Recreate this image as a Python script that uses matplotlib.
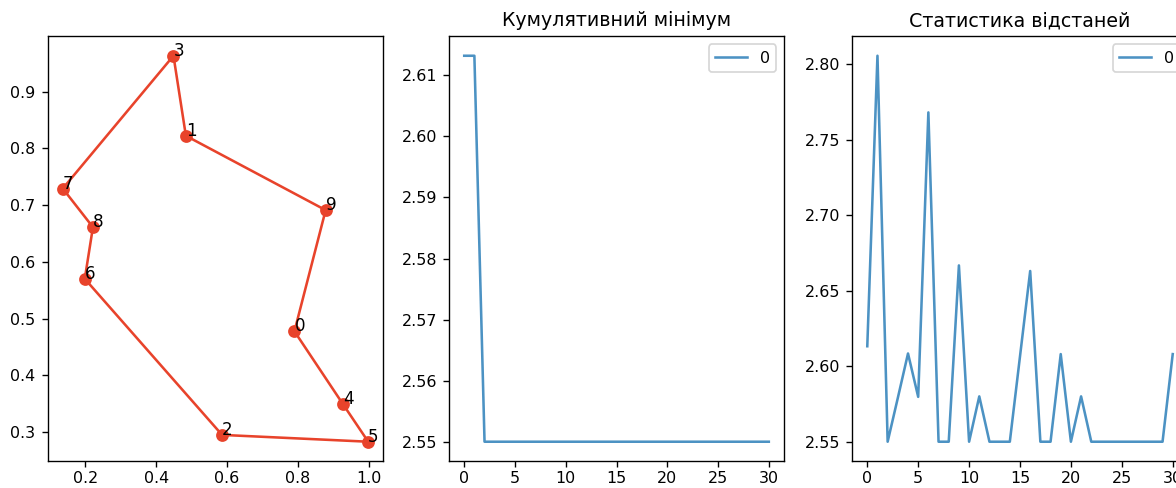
import matplotlib
matplotlib.use("Agg")
import matplotlib.pyplot as plt
import numpy as np

# city coordinates (index = label)
city_x = [0.790, 0.484, 0.586, 0.449, 0.927, 0.998, 0.199, 0.137, 0.222, 0.878]
city_y = [0.4775, 0.822, 0.295, 0.963, 0.349, 0.283, 0.570, 0.729, 0.661, 0.691]
tour = [0, 4, 5, 2, 6, 8, 7, 3, 1, 9, 0]

# distance per iteration
dist = [2.6132, 2.8055, 2.55, 2.579, 2.6084, 2.5797, 2.768, 2.55, 2.55, 2.6667,
        2.55, 2.58, 2.55, 2.55, 2.55, 2.6065, 2.663, 2.55, 2.55, 2.608,
        2.55, 2.58, 2.55, 2.55, 2.55, 2.55, 2.55, 2.55, 2.55, 2.55, 2.608]
cum_min = list(np.minimum.accumulate(dist))
iters = list(range(len(dist)))

plt.rcParams["font.size"] = 9.3

dpi = 123
fig = plt.figure(figsize=(1176 / dpi, 488 / dpi), dpi=dpi)

ax1 = fig.add_axes([0.0404, 0.0553, 0.2857, 0.870])
ax2 = fig.add_axes([0.3818, 0.0553, 0.2849, 0.870])
ax3 = fig.add_axes([0.7245, 0.0553, 0.2857, 0.870])

red = "#e8432b"
ax1.plot([city_x[i] for i in tour], [city_y[i] for i in tour], color=red)
ax1.scatter(city_x, city_y, color=red, s=42, zorder=3)
for i in range(len(city_x)):
    ax1.text(city_x[i], city_y[i], str(i), fontsize=9.8)

blue = "#1f77b4"
ax2.plot(iters, cum_min, color=blue, alpha=0.8, label="0")
ax2.set_title("Кумулятивний мінімум")
ax2.legend(loc="upper right")

ax3.plot(iters, dist, color=blue, alpha=0.8, label="0")
ax3.set_title("Статистика відстаней")
ax3.legend(loc="upper right")

for ax in (ax2, ax3):
    ax.xaxis.set_major_locator(plt.MultipleLocator(5))
for ax in (ax1, ax2, ax3):
    ax.tick_params(axis="x", pad=2.5)

plt.savefig("out.png", dpi=dpi)
